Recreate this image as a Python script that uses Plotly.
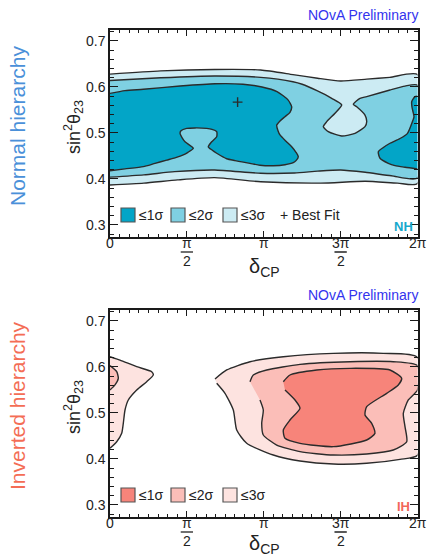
import plotly.graph_objects as go

W, H = 429, 557

# ---------------- data (delta_CP in units of pi, sin^2 theta23) ----------------
# Normal hierarchy
nh_3s_x = [0, 0.33, 0.68, 0.98, 1.19, 1.35, 1.50, 1.67, 1.82, 2.0,
           2.0, 1.87, 1.66, 1.37, 0.98, 0.68, 0.44, 0.22, 0]
nh_3s_y = [0.628, 0.635, 0.638, 0.637, 0.627, 0.619, 0.613, 0.617, 0.621, 0.627,
           0.390, 0.391, 0.395, 0.391, 0.394, 0.403, 0.398, 0.391, 0.387]

nh_2s_x = [0, 0.33, 0.68, 0.98, 1.19, 1.25, 1.346, 1.442, 1.507, 1.4634, 1.4094, 1.3873,
           1.4198, 1.507, 1.5935, 1.6585, 1.6696, 1.6585, 1.6046, 1.5824, 1.626, 1.6696,
           1.8211, 1.9187, 2.0,
           2.0, 1.83, 1.66, 1.5, 1.35, 1.2, 0.98, 0.68, 0.42, 0.22, 0]
nh_2s_y = [0.614, 0.620, 0.624, 0.621, 0.6115, 0.606, 0.592, 0.5754, 0.561, 0.543, 0.5246, 0.5137,
           0.503, 0.4935, 0.4993, 0.5137, 0.5246, 0.539, 0.557, 0.5624, 0.5754, 0.579,
           0.5935, 0.602, 0.604,
           0.402, 0.407, 0.4145, 0.4196, 0.417, 0.413, 0.4124, 0.4196, 0.416, 0.409, 0.404]

nh_1s_a_x = [0, 0.0976, 0.2166, 0.4553, 0.6829, 0.865, 0.9886, 1.0862, 1.1577, 1.1818, 1.1707,
             1.1382, 1.1057, 1.0842, 1.0927, 1.1057, 1.1447, 1.1818, 1.2098, 1.2247, 1.2098,
             1.1922, 1.1382, 1.0621, 0.9756, 0.9106, 0.813, 0.759, 0.694, 0.6634, 0.6393,
             0.6615, 0.694, 0.694, 0.6634, 0.6289, 0.5528, 0.4989, 0.4618, 0.4553, 0.4683,
             0.4878, 0.5418, 0.5073, 0.4767, 0.4228, 0.3688, 0.2927, 0.2166, 0.0976, 0]
nh_1s_a_y = [0.586, 0.592, 0.595, 0.602, 0.607, 0.606, 0.600, 0.590, 0.572, 0.557, 0.545,
             0.5355, 0.526, 0.517, 0.505, 0.4957, 0.482, 0.470, 0.458, 0.4485, 0.440,
             0.4355, 0.431, 0.4289, 0.430, 0.434, 0.440, 0.444, 0.456, 0.463, 0.470,
             0.481, 0.492, 0.503, 0.508, 0.510, 0.511, 0.510, 0.505, 0.4993, 0.490,
             0.481, 0.4667, 0.458, 0.4522, 0.446, 0.441, 0.434, 0.4268, 0.422, 0.418]

nh_1s_b_x = [2.0, 1.9837, 1.9623, 1.9642, 1.9727, 1.9772, 1.9707, 1.9350, 1.8862, 1.8211,
             1.7756, 1.745, 1.7561, 1.8101, 1.8537, 1.9187, 2.0]
nh_1s_b_y = [0.580, 0.579, 0.568, 0.556, 0.5435, 0.535, 0.528, 0.4993, 0.488, 0.4777,
             0.468, 0.4594, 0.445, 0.434, 0.429, 0.4255, 0.422]

nh_best_x = [0.83]
nh_best_y = [0.567]

# Inverted hierarchy
ih_3s_a_x = [0, 0.065, 0.1737, 0.2712, 0.2816, 0.2387, 0.1737, 0.119, 0.0976, 0.0865,
             0.0761, 0.0436, 0]
ih_3s_a_y = [0.6224, 0.615, 0.6007, 0.5898, 0.5826, 0.568, 0.55, 0.5283, 0.5065, 0.4776,
             0.4559, 0.4376, 0.4233]
ih_2s_a_x = [0, 0.0436, 0.054, 0.0325, 0]
ih_2s_a_y = [0.6029, 0.5898, 0.5754, 0.561, 0.55]

ih_3s_b_x = [0.6829, 0.759, 0.9106, 1.1272, 1.4524, 1.7776, 2.0,
             2.0, 1.8862, 1.6696, 1.4524, 1.2358, 1.0621, 0.8891, 0.8241, 0.802, 0.748, 0.694]
ih_3s_b_y = [0.5739, 0.5935, 0.6115, 0.6224, 0.6297, 0.6297, 0.621,
             0.408, 0.3993, 0.3906, 0.3891, 0.3957, 0.4087, 0.4341, 0.463, 0.5065, 0.5428, 0.5646]

ih_2s_b_x = [0.9106, 0.932, 1.0192, 1.2358, 1.561, 1.8426, 2.0, 2.0, 1.9402, 1.9077, 1.9187,
             1.9298, 1.8426, 1.6696, 1.4524, 1.2358, 1.0842, 0.9971, 0.9867, 0.9971, 0.9756]
ih_2s_b_y = [0.568, 0.5826, 0.5935, 0.6058, 0.6115, 0.6115, 0.603, 0.55, 0.5283, 0.4993, 0.4703,
             0.4376, 0.4196, 0.4109, 0.4087, 0.4159, 0.4304, 0.4522, 0.4776, 0.5065, 0.5283]

ih_1s_x = [1.1272, 1.1707, 1.3444, 1.561, 1.8211, 1.8972, 1.8751, 1.7997, 1.6696, 1.6585,
           1.7021, 1.7236, 1.6696, 1.4524, 1.2358, 1.1382, 1.1272, 1.1707, 1.2358, 1.2033, 1.1382]
ih_1s_y = [0.568, 0.5826, 0.5935, 0.5971, 0.5935, 0.5754, 0.561, 0.5428, 0.5137, 0.4957,
           0.4776, 0.4559, 0.4413, 0.4268, 0.4341, 0.445, 0.463, 0.4848, 0.5102, 0.5283, 0.55]

x_tickvals = [0, 0.5, 1, 1.5, 2]
x_tick_num = ["0", "π", "π", "3π", "2π"]      # numerators (or whole label)
x_tick_den = [None, "2", None, "2", None]    # denominators of fraction labels
y_tickvals = [0.3, 0.4, 0.5, 0.6, 0.7]
y_ticktext = ["0.3", "0.4", "0.5", "0.6", "0.7"]

NH_COL = ["#03A5C7", "#7FD0E2", "#CCEBF3"]
IH_COL = ["#F7847A", "#FBBEB8", "#FDE3E0"]
LINE = "#2b2b2b"
FONT = "Liberation Sans, Arial, sans-serif"

fig = go.Figure()


def area(x, y, color, xa, ya):
    fig.add_trace(go.Scatter(
        x=x, y=y, mode="lines", fill="toself", fillcolor=color,
        line=dict(color=LINE, width=1.4, shape="spline", smoothing=0.6),
        xaxis=xa, yaxis=ya, showlegend=False, hoverinfo="skip"))


area(nh_3s_x, nh_3s_y, NH_COL[2], "x", "y")
area(nh_2s_x, nh_2s_y, NH_COL[1], "x", "y")
area(nh_1s_a_x, nh_1s_a_y, NH_COL[0], "x", "y")
area(nh_1s_b_x, nh_1s_b_y, NH_COL[0], "x", "y")
fig.add_trace(go.Scatter(x=nh_best_x, y=nh_best_y, mode="markers",
                         marker=dict(symbol="cross-thin", size=7,
                                     line=dict(color=LINE, width=1.4)),
                         xaxis="x", yaxis="y", showlegend=False))

area(ih_3s_a_x, ih_3s_a_y, IH_COL[2], "x2", "y2")
area(ih_2s_a_x, ih_2s_a_y, IH_COL[1], "x2", "y2")
area(ih_3s_b_x, ih_3s_b_y, IH_COL[2], "x2", "y2")
area(ih_2s_b_x, ih_2s_b_y, IH_COL[1], "x2", "y2")
area(ih_1s_x, ih_1s_y, IH_COL[0], "x2", "y2")


def px(v):
    return v / W


def py(v):
    return 1 - v / H


xdom = [px(110), px(417.5)]
top_dom = [py(237), py(30)]
bot_dom = [py(517), py(310)]

axis_common = dict(showline=True, linecolor="#1a1a1a", linewidth=1.5, mirror="ticks",
                   ticks="inside", tickcolor="#1a1a1a", tickwidth=1.2,
                   showgrid=False, zeroline=False,
                   tickfont=dict(family=FONT, size=14, color="#222"))

xcommon = dict(axis_common, range=[0, 2], tickmode="array", tickvals=x_tickvals,
               showticklabels=False, ticklen=6,
               minor=dict(dtick=0.0625, tick0=0, ticklen=3, ticks="inside",
                          tickcolor="#1a1a1a", tickwidth=1, showgrid=False))
ycommon = dict(axis_common, range=[0.2739, 0.7239], tickmode="array", tickvals=y_tickvals,
               ticktext=y_ticktext, ticklen=8,
               minor=dict(dtick=0.02, tick0=0, ticklen=4, ticks="inside",
                          tickcolor="#1a1a1a", tickwidth=1, showgrid=False))

fig.update_layout(
    width=W, height=H, margin=dict(l=0, r=0, t=0, b=0),
    paper_bgcolor="white", plot_bgcolor="white",
    font=dict(family=FONT, color="#222"),
    xaxis=dict(xcommon, domain=xdom, anchor="y"),
    yaxis=dict(ycommon, domain=top_dom, anchor="x"),
    xaxis2=dict(xcommon, domain=xdom, anchor="y2"),
    yaxis2=dict(ycommon, domain=bot_dom, anchor="x2"),
)

ann = []


def text(x, y, t, size, color="#222", xanchor="center", yanchor="middle", angle=0,
         xref="paper"):
    ann.append(dict(x=px(x) if xref == "paper" else x, y=py(y), xref=xref, yref="paper",
                    text=t, showarrow=False,
                    xanchor=xanchor, yanchor=yanchor, textangle=angle,
                    font=dict(family=FONT, size=size, color=color)))


for off, xa, lab, labcol, side, sidecol, cols in [
        (0, "x", "NH", "#17A8CC", "Normal hierarchy", "#4A90D9", NH_COL),
        (280, "x2", "IH", "#F2675A", "Inverted hierarchy", "#F46D55", IH_COL)]:
    text(420, 15 + off, "NOvA Preliminary", 14, "#3333EE", xanchor="right")
    text(17, 126 + off, side, 21, sidecol, angle=-90)
    text(73, 127 + off, "sin<sup>2</sup>θ<sub>23</sub>", 18, angle=-90)
    text(264, 267 + off - (3 if off else 0), "δ<sub>CP</sub>", 20)
    text(403, 226 + off, "<b>" + lab + "</b>", 13, labcol)
    # x tick labels (pi fractions)
    for v, num, den in zip(x_tickvals, x_tick_num, x_tick_den):
        text(v, 243 + off, num, 14, xref=xa)
        if den is not None:
            text(v, 261 + off, den, 14, xref=xa)
            fig.add_shape(type="line", xref=xa, yref="paper",
                          x0=v - 0.04, x1=v + 0.04, y0=py(252 + off), y1=py(252 + off),
                          line=dict(color="#222", width=1.3))
    # legend
    for i, (x0, lt) in enumerate([(121, "≤1σ"), (171, "≤2σ"), (223, "≤3σ")]):
        fig.add_shape(type="rect", xref="paper", yref="paper",
                      x0=px(x0), x1=px(x0 + 14), y0=py(222 + off), y1=py(208 + off),
                      fillcolor=cols[i], line=dict(color="#555", width=1.2))
        text(x0 + 16, 215 + off, lt, 14, xanchor="left")
    if off == 0:
        text(278, 215, "+ Best Fit", 14, xanchor="left")

fig.update_layout(annotations=ann)
fig.write_html("out.html")
